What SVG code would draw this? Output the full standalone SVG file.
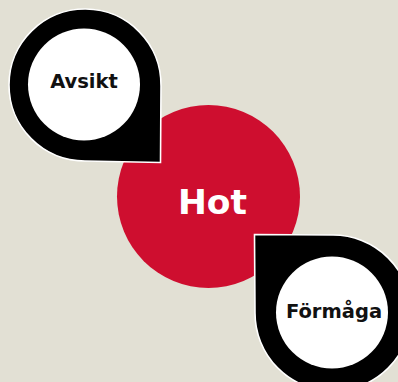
<svg xmlns="http://www.w3.org/2000/svg" width="398" height="382" viewBox="0 0 398 382">
<style>
.drop{fill:#000;stroke:#fff;stroke-width:1.6;stroke-linejoin:miter}
.inner{fill:#fff}
.lbl{font-family:"DejaVu Sans",sans-serif;font-weight:bold;text-anchor:middle;fill:#111}
.hot{font-family:"DejaVu Sans",sans-serif;font-weight:bold;text-anchor:middle;fill:#fff}
</style>
<rect width="398" height="382" fill="#e2e0d4"/>
<g id="hot">
<circle cx="208.5" cy="196.5" r="91.5" fill="#ce0e2f"/>
<text class="hot" x="212.5" y="214" font-size="34.5">Hot</text>
</g>
<g id="connectors"></g>
<g id="avsikt">
<path class="drop" d="M161,86 A76,76 0 1 0 85,161 L160.5,162.5 Z"/>
<circle class="inner" cx="84" cy="84.5" r="56"/>
<text class="lbl" x="84" y="88.3" font-size="19.5">Avsikt</text>
</g>
<g id="formaga">
<path class="drop" d="M255,313 A78,78 0 1 0 333,235 L254.5,234.5 Z"/>
<circle class="inner" cx="332" cy="312.5" r="56"/>
<text class="lbl" x="334" y="318.3" font-size="19.5">Förmåga</text>
</g>
</svg>
